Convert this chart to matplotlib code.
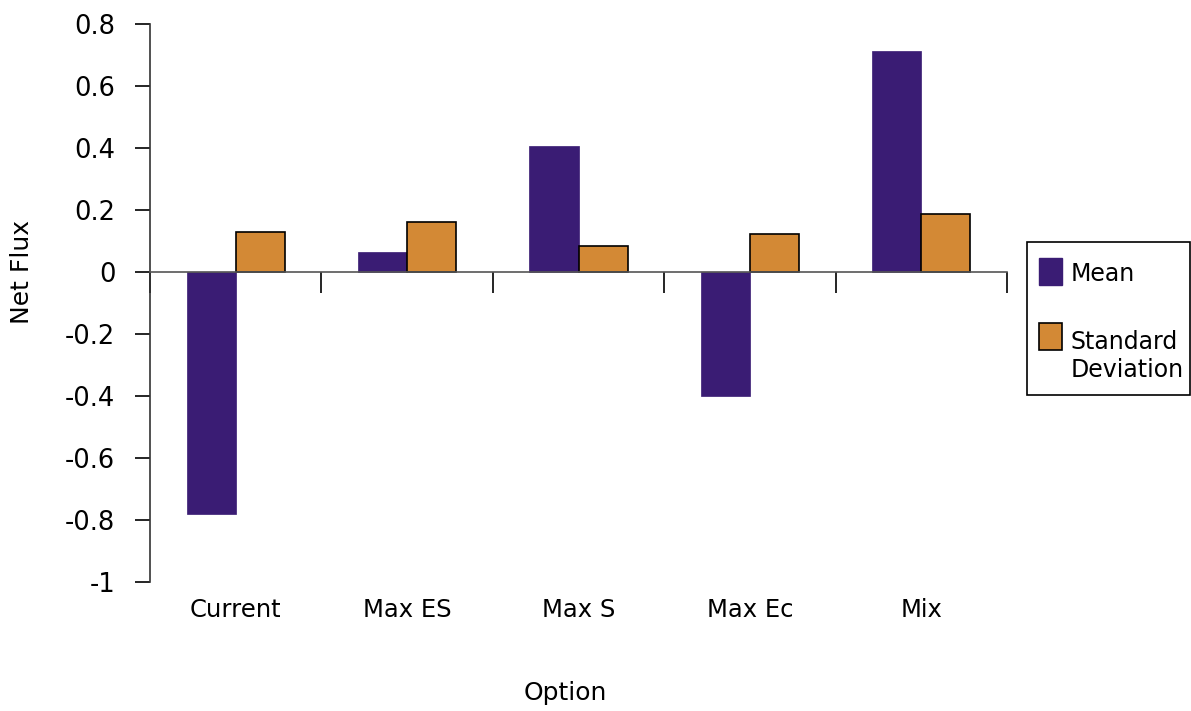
import matplotlib
matplotlib.use("Agg")
import matplotlib.pyplot as plt
import numpy as np
from matplotlib.patches import Rectangle

categories = ["Current", "Max ES", "Max S", "Max Ec", "Mix"]
mean_vals = [-0.78, 0.065, 0.405, -0.40, 0.713]
std_vals = [0.128, 0.161, 0.083, 0.122, 0.187]
yticks = [0.8, 0.6, 0.4, 0.2, 0, -0.2, -0.4, -0.6, -0.8, -1]
ytick_labels = ["0.8", "0.6", "0.4", "0.2", "0", "-0.2", "-0.4", "-0.6", "-0.8", "-1"]
legend_labels = ["Mean", "Standard\nDeviation"]

purple = "#3A1C74"
orange = "#D38935"

plt.rcParams['font.family'] = ['DejaVu Sans']
W, H = 1191, 711
fig = plt.figure(figsize=(W/100, H/100), dpi=100)
ax = fig.add_axes([150/W, 1-582/H, (1007-150)/W, (582-24)/H])

x = np.arange(len(categories)) + 0.5
w = 0.286
ax.bar(x - w/2, mean_vals, width=w, color=purple, edgecolor=purple, linewidth=0.5, zorder=2)
ax.bar(x + w/2, std_vals, width=w, color=orange, edgecolor="black", linewidth=1.2, zorder=2)

ax.set_xlim(0, len(categories))
ax.set_ylim(-1, 0.8)
ax.set_yticks(yticks)
ax.set_yticklabels(ytick_labels, fontsize=18.5)
ax.tick_params(axis='y', direction='out', length=11, width=1.2, pad=14)

for s in ["top", "right"]:
    ax.spines[s].set_visible(False)
ax.spines["left"].set_linewidth(1.2)
ax.spines["left"].set_color("#333333")
ax.spines["bottom"].set_position(("data", 0))
ax.spines["bottom"].set_linewidth(1.2)
ax.spines["bottom"].set_color("#555555")
ax.spines["bottom"].set_zorder(3)
ax.set_xticks(np.arange(len(categories) + 1))
ax.set_xticklabels([])
ax.tick_params(axis='x', direction='out', length=15, width=1.2, colors="black")

for xi, lab in zip(x, categories):
    ax.text(xi, -1.09, lab, ha='center', va='center', fontsize=17.5)

fig.text(565/W, 1-693/H, "Option", ha='center', va='center', fontsize=18)
fig.text(22/W, 1-272/H, "Net Flux", ha='center', va='center', rotation=90, fontsize=18)

# legend box (figure pixel layout)
def fx(px): return px / W
def fy(py): return 1 - py / H
fig.patches.append(Rectangle((fx(1027), fy(395)), fx(1190) - fx(1027), fy(242) - fy(395),
                             transform=fig.transFigure, facecolor="white",
                             edgecolor="black", linewidth=1.2))
fig.patches.append(Rectangle((fx(1039), fy(285)), fx(1062) - fx(1039), fy(258) - fy(285),
                             transform=fig.transFigure, facecolor=purple, edgecolor=purple))
fig.patches.append(Rectangle((fx(1039), fy(350)), fx(1062) - fx(1039), fy(323) - fy(350),
                             transform=fig.transFigure, facecolor=orange, edgecolor="black",
                             linewidth=1.2))
fig.text(fx(1071), fy(274), legend_labels[0], ha='left', va='center', fontsize=17)
fig.text(fx(1071), fy(356), legend_labels[1], ha='left', va='center', fontsize=17,
         linespacing=1.25)

fig.savefig("out.png", dpi=100)
